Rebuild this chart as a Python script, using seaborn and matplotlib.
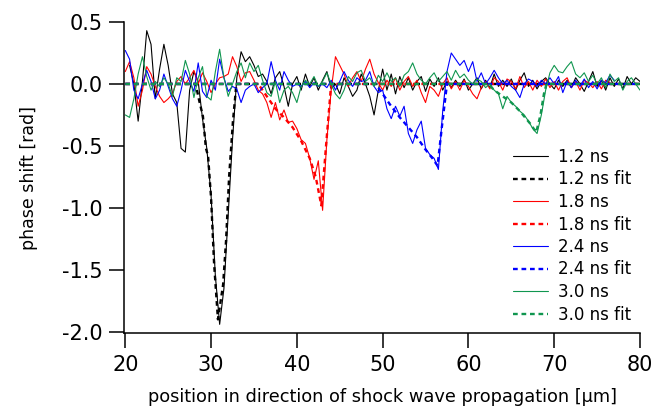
import numpy as np
import pandas as pd
import matplotlib
matplotlib.use("Agg")
import matplotlib.pyplot as plt
import seaborn as sns

# ---------------- data ----------------
x_start, x_step = 20.0, 0.5   # sampling grid of the traces [um]

t12 = [np.nan, 0.15, 0.00, -0.30, 0.02, 0.43, 0.32, -0.12, 0.12, 0.32,
       0.15, -0.08, -0.15, -0.52, -0.55, -0.05, 0.10, 0.02, -0.28, -0.52,
       -0.90, -1.55, -1.94, -1.65, -1.05, -0.45, 0.05, 0.26, 0.18, 0.22,
       0.15, 0.06, 0.08, 0.02, -0.08, 0.05, 0.10, -0.02, -0.18, 0.00,
       0.06, -0.05, 0.08, -0.02, 0.05, -0.05, 0.03, 0.10, -0.04, 0.00,
       -0.08, 0.05, -0.02, -0.10, -0.05, 0.08, 0.00, -0.10, -0.25, -0.05,
       0.12, -0.05, 0.08, -0.08, 0.06, -0.03, 0.05, -0.05, 0.02, 0.06,
       -0.06, 0.04, -0.02, 0.05, -0.05, 0.02, -0.03, 0.03, -0.02, 0.04,
       -0.05, 0.00, 0.05, -0.04, 0.03, -0.03, 0.08, -0.02, 0.03, -0.02,
       0.04, -0.05, 0.03, 0.09, -0.02, 0.03, -0.04, 0.02, 0.05, 0.00,
       -0.04, 0.03, -0.02, 0.03, -0.03, 0.05, 0.00, -0.06, 0.02, 0.10,
       -0.02, 0.03, -0.05, 0.05, -0.02, 0.04, -0.04, 0.06, 0.00, 0.05,
       0.02]

t18 = [0.10, 0.18, 0.05, -0.18, -0.05, 0.14, 0.08, -0.02, -0.10, -0.15,
       -0.12, -0.08, 0.02, 0.06, 0.00, 0.05, 0.11, 0.00, 0.09, 0.02,
       -0.07, 0.00, 0.05, 0.06, 0.08, 0.22, 0.14, 0.02, 0.09, 0.10,
       0.03, -0.05, -0.08, -0.15, -0.27, -0.15, -0.29, -0.21, -0.31, -0.30,
       -0.36, -0.45, -0.48, -0.60, -0.77, -0.62, -1.02, -0.45, -0.05, 0.22,
       0.15, 0.08, -0.02, 0.05, 0.10, 0.02, 0.12, 0.20, 0.08, 0.01,
       -0.05, 0.03, -0.02, 0.05, -0.05, 0.02, 0.06, -0.02, 0.03, -0.07,
       -0.15, -0.02, -0.05, -0.10, 0.00, 0.05, -0.04, 0.02, -0.05, 0.03,
       -0.02, -0.08, -0.12, -0.03, 0.02, -0.04, 0.05, 0.02, -0.05, 0.04,
       0.02, -0.04, 0.06, -0.03, 0.02, -0.05, 0.03, -0.02, 0.04, -0.03,
       0.02, -0.05, 0.02, 0.05, -0.03, 0.02, -0.05, 0.03, 0.01, -0.03,
       0.02, -0.04, 0.03, 0.01, np.nan, np.nan, np.nan, np.nan, np.nan, np.nan,
       np.nan]

t24 = [0.27, 0.20, -0.05, -0.12, 0.00, 0.11, 0.02, -0.12, -0.05, 0.08,
       -0.02, -0.12, -0.18, -0.05, 0.11, 0.02, -0.06, 0.17, -0.06, -0.11,
       0.03, -0.05, 0.20, 0.05, -0.06, -0.02, -0.04, -0.15, -0.05, -0.02,
       0.00, -0.07, -0.03, 0.00, 0.18, 0.03, -0.05, 0.10, 0.03, -0.02,
       0.00, -0.02, 0.02, -0.03, 0.01, -0.02, 0.00, -0.03, 0.03, -0.05,
       0.02, 0.10, 0.03, -0.02, 0.05, 0.02, 0.03, 0.10, -0.02, -0.07,
       -0.05, -0.20, -0.28, -0.18, -0.26, -0.18, -0.40, -0.48, -0.37, -0.30,
       -0.52, -0.57, -0.60, -0.69, -0.22, 0.10, 0.25, 0.20, 0.15, 0.19,
       0.10, 0.18, 0.02, 0.09, 0.00, 0.05, 0.11, 0.05, 0.00, 0.03,
       -0.02, -0.05, -0.11, 0.00, 0.04, 0.02, -0.02, 0.03, 0.00, 0.05,
       0.00, 0.06, -0.07, 0.02, -0.03, 0.03, -0.02, 0.04, -0.03, 0.02,
       -0.04, 0.03, 0.01, 0.07, 0.03, np.nan, np.nan, np.nan, np.nan, np.nan,
       np.nan]

t30 = [-0.25, -0.27, -0.12, 0.08, 0.22, 0.06, -0.05, 0.02, -0.02, 0.05,
       0.00, -0.10, 0.05, 0.02, 0.19, 0.08, -0.11, 0.05, 0.14, -0.10,
       -0.13, 0.10, 0.28, 0.05, -0.10, 0.00, 0.10, 0.17, 0.05, 0.17,
       0.10, 0.15, 0.03, -0.07, -0.10, 0.02, -0.15, -0.05, -0.02, -0.07,
       -0.15, -0.02, 0.03, 0.00, 0.06, -0.02, 0.02, 0.09, 0.00, -0.08,
       -0.12, -0.05, 0.06, 0.02, 0.09, 0.11, 0.02, 0.05, -0.02, 0.07,
       0.02, 0.09, 0.02, 0.05, -0.02, 0.07, 0.10, 0.17, 0.08, 0.03,
       0.00, 0.05, 0.09, 0.02, 0.06, 0.10, 0.03, 0.11, 0.05, 0.08,
       0.03, 0.00, 0.04, 0.02, -0.03, 0.00, -0.05, -0.08, -0.20, -0.10,
       -0.15, -0.18, -0.22, -0.25, -0.30, -0.36, -0.40, -0.25, -0.05, 0.09,
       0.15, 0.10, 0.09, 0.14, 0.18, 0.08, 0.05, 0.09, 0.02, 0.07,
       0.00, 0.05, -0.03, 0.08, 0.02, 0.05, -0.05, 0.02, 0.05, 0.00,
       -0.05]

# fitted profiles (vertices)
fit12_x = [20.0, 28.2, 28.6, 29.05, 29.4, 29.65, 30.0, 30.35, 30.8, 31.4, 31.75, 32.1, 32.55, 32.95, 80.0]
fit12_y = [0.0, 0.0, -0.13, -0.26, -0.52, -0.58, -0.92, -1.45, -1.90, -1.62, -1.26, -0.75, -0.30, 0.0, 0.0]
fit18_x = [20.0, 35.5, 36.5, 37.5, 38.5, 39.5, 40.5, 41.5, 42.2, 42.85, 43.4, 44.0, 80.0]
fit18_y = [0.0, 0.0, -0.10, -0.20, -0.27, -0.35, -0.46, -0.60, -0.75, -0.98, -0.50, 0.0, 0.0]
fit24_x = [20.0, 49.2, 50.0, 51.0, 52.0, 53.0, 54.0, 55.0, 55.8, 56.4, 56.9, 57.5, 80.0]
fit24_y = [0.0, 0.0, -0.08, -0.18, -0.27, -0.35, -0.43, -0.53, -0.60, -0.66, -0.35, 0.0, 0.0]
fit30_x = [20.0, 62.3, 63.0, 64.0, 65.0, 66.0, 67.2, 67.9, 68.4, 68.8, 69.1, 80.0]
fit30_y = [0.0, 0.0, -0.05, -0.10, -0.15, -0.22, -0.32, -0.39, -0.25, -0.08, 0.0, 0.0]

labels = ["1.2 ns", "1.8 ns", "2.4 ns", "3.0 ns"]
colors = ["#000000", "#ff0000", "#0000ff", "#10964f"]

xticks = [20, 30, 40, 50, 60, 70, 80]
yticks = [0.5, 0.0, -0.5, -1.0, -1.5, -2.0]

# ---------------- figure ----------------
sns.set_style("ticks")
plt.rcParams["font.family"] = ["DejaVu Sans"]
plt.rcParams["axes.unicode_minus"] = False
plt.rcParams["text.color"] = "black"
plt.rcParams["axes.labelcolor"] = "black"

W, H = 657, 412
fig = plt.figure(figsize=(W / 100, H / 100), dpi=100)
ax = fig.add_axes([124 / W, 1 - 333 / H, (640 - 124) / W, (333 - 22) / H])

traces = [t12, t18, t24, t30]
fits = [(fit12_x, fit12_y), (fit18_x, fit18_y), (fit24_x, fit24_y), (fit30_x, fit30_y)]
for lab, col, tr, (fx, fy) in zip(labels, colors, traces, fits):
    n = len(tr)
    xs = x_start + x_step * np.arange(n)
    df = pd.DataFrame({"x": xs, "y": tr}).dropna()
    sns.lineplot(data=df, x="x", y="y", ax=ax, color=col, lw=0.8,
                 label=lab, estimator=None, sort=False)
    dff = pd.DataFrame({"x": fx, "y": fy})
    sns.lineplot(data=dff, x="x", y="y", ax=ax, color=col, lw=1.7,
                 linestyle=(0, (2.0, 1.6)), label=lab + " fit",
                 estimator=None, sort=False)

ax.set_xlim(19.85, 80)
ax.set_ylim(-2.01, 0.5)
ax.set_xticks(xticks)
ax.set_yticks(yticks)
ax.set_yticklabels([f"{v:.1f}" for v in yticks])
ax.set_xticklabels([str(v) for v in xticks])
sns.despine(ax=ax)
for s in ["left", "bottom"]:
    ax.spines[s].set_linewidth(1.1)
    ax.spines[s].set_color("black")
ax.tick_params(axis="both", direction="out", length=10.5, width=1.1,
               labelsize=15, pad=5, colors="black")
ax.set_xlabel("position in direction of shock wave propagation [\u00b5m]",
              fontsize=12.8, labelpad=10)
ax.set_ylabel("phase shift [rad]", fontsize=12.5, labelpad=17)

leg = ax.legend(loc="upper left", bbox_to_anchor=(513 / W, 1 - 148 / H),
                bbox_transform=fig.transFigure, frameon=False, fontsize=12,
                handlelength=2.1, handletextpad=0.6, labelspacing=0.27,
                borderpad=0, borderaxespad=0)

fig.savefig("out.png", dpi=100)
